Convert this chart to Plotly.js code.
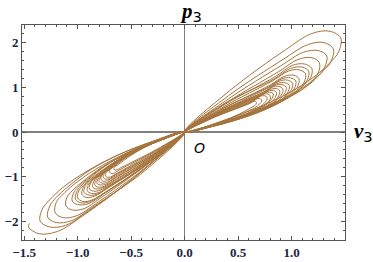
<!DOCTYPE html>
<html>
<head>
<meta charset="utf-8">
<script src="https://cdn.plot.ly/plotly-3.0.1.min.js"></script>
<style>
  html, body { margin: 0; padding: 0; background: #fff; }
  #grafico { width: 373px; height: 262px; }
</style>
</head>
<body>
<div id="grafico"></div>
<script>
// loops of the upper-right lobe (v3, p3)
const upperLoopsX = [
  [0, 0.42, 0.94, 1.19, 1.36, 1.46, 1.44, 1.36, 1.22, 0.98, 0.67, 0.33, 0],
  [0, 0.41, 0.92, 1.15, 1.30, 1.39, 1.37, 1.30, 1.17, 0.94, 0.64, 0.32, 0],
  [0, 0.41, 0.90, 1.11, 1.25, 1.33, 1.31, 1.25, 1.13, 0.90, 0.62, 0.31, 0],
  [0, 0.40, 0.88, 1.06, 1.19, 1.26, 1.25, 1.19, 1.08, 0.86, 0.59, 0.29, 0],
  [0, 0.38, 0.85, 1.01, 1.12, 1.19, 1.18, 1.12, 1.03, 0.82, 0.57, 0.28, 0],
  [0, 0.36, 0.84, 0.99, 1.10, 1.16, 1.15, 1.10, 1.01, 0.81, 0.56, 0.28, 0],
  [0, 0.37, 0.82, 0.97, 1.07, 1.13, 1.12, 1.07, 0.99, 0.79, 0.54, 0.27, 0],
  [0, 0.36, 0.80, 0.93, 1.02, 1.07, 1.06, 1.02, 0.95, 0.76, 0.52, 0.26, 0],
  [0, 0.35, 0.79, 0.91, 0.99, 1.04, 1.03, 0.99, 0.92, 0.74, 0.51, 0.25, 0],
  [0, 0.35, 0.77, 0.89, 0.96, 1.01, 1.00, 0.96, 0.90, 0.72, 0.50, 0.24, 0],
  [0, 0.34, 0.76, 0.86, 0.94, 0.98, 0.97, 0.94, 0.88, 0.70, 0.48, 0.24, 0],
  [0, 0.33, 0.74, 0.84, 0.91, 0.95, 0.94, 0.91, 0.85, 0.68, 0.47, 0.23, 0],
  [0, 0.33, 0.73, 0.82, 0.88, 0.92, 0.91, 0.88, 0.83, 0.66, 0.46, 0.22, 0],
  [0, 0.32, 0.71, 0.80, 0.86, 0.89, 0.88, 0.86, 0.81, 0.65, 0.45, 0.22, 0],
  [0, 0.31, 0.70, 0.78, 0.83, 0.86, 0.85, 0.83, 0.79, 0.63, 0.43, 0.21, 0],
  [0, 0.31, 0.68, 0.75, 0.80, 0.83, 0.82, 0.80, 0.76, 0.61, 0.42, 0.21, 0],
  [0, 0.30, 0.67, 0.73, 0.78, 0.80, 0.80, 0.78, 0.74, 0.59, 0.41, 0.20, 0],
  [0, 0.30, 0.66, 0.71, 0.75, 0.77, 0.77, 0.75, 0.72, 0.58, 0.40, 0.19, 0],
  [0, 0.28, 0.63, 0.67, 0.70, 0.72, 0.72, 0.70, 0.68, 0.54, 0.37, 0.18, 0],
  [0, 0.27, 0.61, 0.64, 0.66, 0.67, 0.67, 0.66, 0.64, 0.51, 0.35, 0.17, 0]
];
const upperLoopsY = [
  [0, 0.92, 1.83, 2.20, 2.25, 2.10, 1.79, 1.55, 1.25, 0.88, 0.53, 0.23, 0],
  [0, 0.81, 1.62, 1.95, 2.00, 1.86, 1.58, 1.37, 1.10, 0.77, 0.46, 0.20, 0],
  [0, 0.74, 1.48, 1.78, 1.82, 1.70, 1.45, 1.25, 1.00, 0.70, 0.42, 0.18, 0],
  [0, 0.67, 1.35, 1.62, 1.66, 1.55, 1.32, 1.14, 0.92, 0.64, 0.39, 0.17, 0],
  [0, 0.62, 1.24, 1.49, 1.52, 1.42, 1.22, 1.06, 0.86, 0.60, 0.36, 0.15, 0],
  [0, 0.62, 1.19, 1.42, 1.45, 1.36, 1.17, 1.02, 0.83, 0.56, 0.33, 0.14, 0],
  [0, 0.57, 1.14, 1.36, 1.39, 1.30, 1.12, 0.98, 0.80, 0.56, 0.34, 0.14, 0],
  [0, 0.52, 1.05, 1.24, 1.27, 1.19, 1.03, 0.90, 0.75, 0.53, 0.32, 0.14, 0],
  [0, 0.52, 1.01, 1.19, 1.21, 1.14, 0.99, 0.87, 0.72, 0.49, 0.29, 0.12, 0],
  [0, 0.48, 0.97, 1.14, 1.16, 1.09, 0.95, 0.84, 0.70, 0.49, 0.29, 0.13, 0],
  [0, 0.47, 0.92, 1.08, 1.10, 1.04, 0.91, 0.80, 0.68, 0.46, 0.27, 0.11, 0],
  [0, 0.45, 0.89, 1.04, 1.06, 1.00, 0.88, 0.78, 0.66, 0.46, 0.28, 0.12, 0],
  [0, 0.44, 0.86, 1.00, 1.02, 0.96, 0.85, 0.76, 0.65, 0.44, 0.26, 0.11, 0],
  [0, 0.41, 0.83, 0.95, 0.97, 0.92, 0.81, 0.73, 0.63, 0.44, 0.26, 0.11, 0],
  [0, 0.41, 0.80, 0.91, 0.93, 0.88, 0.78, 0.71, 0.62, 0.42, 0.25, 0.10, 0],
  [0, 0.39, 0.77, 0.88, 0.89, 0.85, 0.76, 0.70, 0.61, 0.43, 0.26, 0.11, 0],
  [0, 0.38, 0.74, 0.84, 0.85, 0.81, 0.73, 0.67, 0.60, 0.41, 0.24, 0.10, 0],
  [0, 0.36, 0.72, 0.80, 0.81, 0.78, 0.71, 0.66, 0.59, 0.41, 0.25, 0.11, 0],
  [0, 0.34, 0.67, 0.74, 0.75, 0.72, 0.67, 0.63, 0.58, 0.41, 0.24, 0.10, 0],
  [0, 0.32, 0.64, 0.68, 0.69, 0.67, 0.63, 0.60, 0.57, 0.40, 0.24, 0.10, 0]
];

// loops of the lower-left lobe (the outermost one is open at its far end)
const lowerLoopsX = [
  [0, -0.42, -0.94, -1.19, -1.36, -1.46, -1.45],
  [0, -0.40, -0.89, -1.11, -1.26, -1.35, -1.33, -1.26, -1.14, -0.91, -0.63, -0.31, 0],
  [0, -0.37, -0.86, -1.06, -1.20, -1.28, -1.26, -1.20, -1.09, -0.87, -0.60, -0.30, 0],
  [0, -0.37, -0.83, -1.01, -1.14, -1.21, -1.20, -1.14, -1.04, -0.83, -0.57, -0.28, 0],
  [0, -0.36, -0.79, -0.94, -1.05, -1.11, -1.10, -1.05, -0.96, -0.77, -0.53, -0.26, 0],
  [0, -0.34, -0.76, -0.90, -1.00, -1.05, -1.04, -1.00, -0.92, -0.74, -0.51, -0.25, 0],
  [0, -0.33, -0.75, -0.88, -0.97, -1.02, -1.01, -0.97, -0.90, -0.72, -0.50, -0.25, 0],
  [0, -0.33, -0.74, -0.87, -0.95, -1.00, -0.99, -0.95, -0.88, -0.70, -0.48, -0.24, 0],
  [0, -0.33, -0.73, -0.84, -0.92, -0.96, -0.95, -0.92, -0.85, -0.68, -0.47, -0.23, 0],
  [0, -0.31, -0.72, -0.82, -0.89, -0.94, -0.93, -0.89, -0.83, -0.66, -0.46, -0.23, 0],
  [0, -0.32, -0.70, -0.80, -0.87, -0.91, -0.90, -0.87, -0.81, -0.65, -0.45, -0.22, 0],
  [0, -0.30, -0.69, -0.79, -0.85, -0.89, -0.88, -0.85, -0.80, -0.64, -0.44, -0.22, 0],
  [0, -0.31, -0.68, -0.77, -0.83, -0.86, -0.85, -0.83, -0.78, -0.62, -0.43, -0.21, 0],
  [0, -0.29, -0.67, -0.75, -0.81, -0.84, -0.83, -0.81, -0.76, -0.61, -0.42, -0.21, 0],
  [0, -0.30, -0.67, -0.74, -0.79, -0.82, -0.81, -0.79, -0.75, -0.60, -0.41, -0.20, 0],
  [0, -0.29, -0.66, -0.73, -0.77, -0.80, -0.79, -0.77, -0.74, -0.59, -0.40, -0.20, 0],
  [0, -0.30, -0.66, -0.72, -0.76, -0.78, -0.78, -0.76, -0.72, -0.58, -0.40, -0.19, 0],
  [0, -0.28, -0.65, -0.70, -0.74, -0.76, -0.76, -0.74, -0.71, -0.57, -0.39, -0.19, 0],
  [0, -0.29, -0.64, -0.69, -0.72, -0.74, -0.74, -0.72, -0.69, -0.55, -0.38, -0.19, 0],
  [0, -0.28, -0.62, -0.66, -0.69, -0.70, -0.70, -0.69, -0.66, -0.53, -0.36, -0.18, 0],
  [0, -0.27, -0.60, -0.63, -0.65, -0.66, -0.66, -0.65, -0.63, -0.50, -0.35, -0.17, 0]
];
const lowerLoopsY = [
  [0, -0.92, -1.85, -2.22, -2.27, -2.12, -2.04],
  [0, -0.88, -1.75, -2.08, -2.12, -1.99, -1.72, -1.51, -1.24, -0.87, -0.52, -0.22, 0],
  [0, -0.86, -1.68, -1.98, -2.02, -1.90, -1.65, -1.46, -1.22, -0.83, -0.49, -0.21, 0],
  [0, -0.80, -1.60, -1.87, -1.91, -1.80, -1.57, -1.40, -1.18, -0.83, -0.50, -0.21, 0],
  [0, -0.74, -1.48, -1.71, -1.74, -1.65, -1.46, -1.31, -1.12, -0.78, -0.47, -0.20, 0],
  [0, -0.70, -1.39, -1.60, -1.62, -1.54, -1.37, -1.24, -1.07, -0.75, -0.45, -0.19, 0],
  [0, -0.69, -1.36, -1.55, -1.58, -1.50, -1.34, -1.21, -1.06, -0.72, -0.42, -0.17, 0],
  [0, -0.67, -1.34, -1.52, -1.55, -1.47, -1.32, -1.20, -1.05, -0.74, -0.44, -0.19, 0],
  [0, -0.64, -1.27, -1.43, -1.46, -1.39, -1.25, -1.15, -1.02, -0.71, -0.43, -0.18, 0],
  [0, -0.63, -1.24, -1.39, -1.41, -1.35, -1.22, -1.12, -0.99, -0.68, -0.40, -0.16, 0],
  [0, -0.60, -1.20, -1.35, -1.37, -1.31, -1.19, -1.09, -0.97, -0.68, -0.41, -0.17, 0],
  [0, -0.59, -1.17, -1.30, -1.32, -1.27, -1.15, -1.06, -0.95, -0.65, -0.38, -0.16, 0],
  [0, -0.56, -1.13, -1.25, -1.27, -1.22, -1.11, -1.03, -0.93, -0.65, -0.39, -0.17, 0],
  [0, -0.55, -1.09, -1.21, -1.23, -1.18, -1.08, -1.00, -0.91, -0.62, -0.36, -0.15, 0],
  [0, -0.53, -1.06, -1.17, -1.18, -1.14, -1.05, -0.98, -0.89, -0.62, -0.37, -0.16, 0],
  [0, -0.51, -1.03, -1.13, -1.14, -1.10, -1.02, -0.95, -0.87, -0.59, -0.34, -0.14, 0],
  [0, -0.50, -1.00, -1.08, -1.10, -1.06, -0.99, -0.93, -0.86, -0.60, -0.36, -0.15, 0],
  [0, -0.48, -0.96, -1.04, -1.05, -1.02, -0.95, -0.90, -0.83, -0.58, -0.35, -0.15, 0],
  [0, -0.46, -0.93, -1.00, -1.01, -0.98, -0.92, -0.88, -0.82, -0.57, -0.34, -0.15, 0],
  [0, -0.43, -0.86, -0.92, -0.92, -0.90, -0.85, -0.82, -0.77, -0.54, -0.32, -0.14, 0],
  [0, -0.40, -0.80, -0.84, -0.85, -0.83, -0.80, -0.77, -0.74, -0.52, -0.31, -0.13, 0]
];

const xTickVals = [-1.5, -1, -0.5, 0, 0.5, 1];
const xTickText = ['\u22121.5', '\u22121.0', '\u22120.5', '0.0', '0.5', '1.0'];
const yTickVals = [-2, -1, 0, 1, 2];
const yTickText = ['\u22122', '\u22121', '0', '1', '2'];

const lineColor = '#a5743c';
const frameColor = '#555555';
const tickFont = { family: 'Liberation Serif, serif', size: 13, color: '#1c2340' };

const toTrace = (x, y) => ({
  x, y, type: 'scatter', mode: 'lines', hoverinfo: 'skip',
  line: { color: lineColor, width: 1, shape: 'spline', smoothing: 1 }
});

const traces = [];
upperLoopsX.forEach((xs, i) => traces.push(toTrace(xs, upperLoopsY[i])));
lowerLoopsX.forEach((xs, i) => traces.push(toTrace(xs, lowerLoopsY[i])));

const bold = arr => arr.map(t => '<b>' + t + '</b>');

const axisBase = {
  showgrid: false,
  zeroline: true, zerolinecolor: '#808080', zerolinewidth: 1.3,
  showline: true, linecolor: frameColor, linewidth: 1, mirror: 'ticks',
  ticks: 'inside', ticklen: 4, tickwidth: 1, tickcolor: frameColor,
  tickfont: tickFont, fixedrange: true
};

const layout = {
  width: 373, height: 262,
  margin: { l: 22, r: 28, t: 25, b: 22 },
  paper_bgcolor: '#ffffff', plot_bgcolor: '#ffffff',
  showlegend: false,
  xaxis: Object.assign({}, axisBase, {
    range: [-1.52, 1.5], tickmode: 'array', tickvals: xTickVals, ticktext: bold(xTickText),
    minor: { dtick: 0.1, tick0: 0, ticks: 'inside', ticklen: 2, tickcolor: frameColor }
  }),
  yaxis: Object.assign({}, axisBase, {
    range: [-2.41, 2.39], tickmode: 'array', tickvals: yTickVals, ticktext: bold(yTickText),
    minor: { dtick: 0.2, tick0: 0, ticks: 'inside', ticklen: 2, tickcolor: frameColor }
  }),
  annotations: [
    {
      text: '<b><i>p</i></b><sub><span style="font-family:DejaVu Sans;font-weight:normal">3</span></sub>',
      xref: 'x', yref: 'paper', x: 0.06, y: 1.06, xanchor: 'center', yanchor: 'middle',
      showarrow: false, font: { family: 'Liberation Serif, serif', size: 21, color: '#000' }
    },
    {
      text: '<b><i>v</i></b><sub><span style="font-family:DejaVu Sans;font-weight:normal">3</span></sub>',
      xref: 'paper', yref: 'y', x: 1.056, y: 0, xanchor: 'center', yanchor: 'middle',
      showarrow: false, font: { family: 'Liberation Serif, serif', size: 21, color: '#000' }
    },
    {
      text: '<i>O</i>',
      xref: 'x', yref: 'y', x: 0.137, y: -0.35, xanchor: 'center', yanchor: 'middle',
      showarrow: false, font: { family: 'DejaVu Sans, sans-serif', size: 14, color: '#000' }
    }
  ]
};

Plotly.newPlot('grafico', traces, layout, { staticPlot: true, displayModeBar: false });
</script>
</body>
</html>
